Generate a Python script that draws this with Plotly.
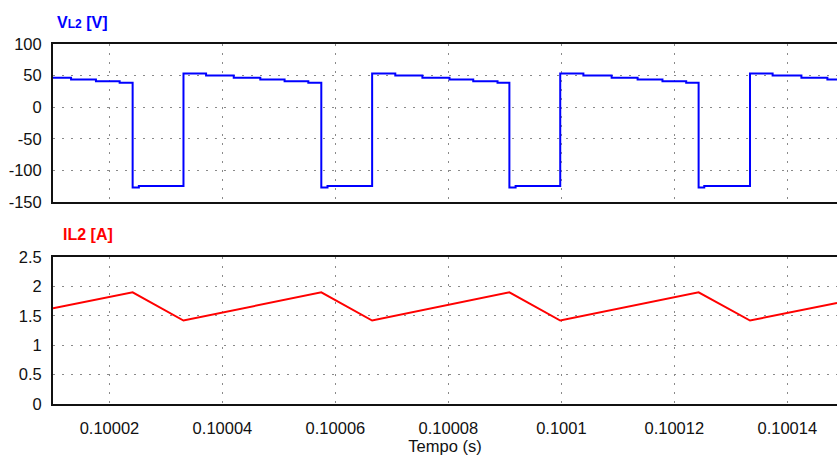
import plotly.graph_objects as go

# ---- data ----
t_v = [0.10001, 0.1000132, 0.1000176, 0.1000218, 0.1000241, 0.1000252,
       0.1000331, 0.1000371, 0.1000420, 0.1000467, 0.1000510, 0.1000552,
       0.1000575, 0.1000586, 0.1000665, 0.1000706, 0.1000754, 0.1000802,
       0.1000844, 0.1000887, 0.1000908, 0.1000919, 0.1000998, 0.1001039,
       0.1001089, 0.1001135, 0.1001179, 0.1001221, 0.1001243, 0.1001253,
       0.1001334, 0.1001374, 0.1001425, 0.1001471, 0.1001488]
v_l2 = [46.5, 44, 41, 38.5, -127, -124.5,
        53.5, 50, 46.5, 44, 41, 38.5, -127, -124.5,
        53.5, 50, 46.5, 44, 41, 38.5, -127, -124.5,
        53.5, 50, 46.5, 44, 41, 38.5, -127, -124.5,
        53.5, 50, 46.5, 44, 44]

t_i = [0.10001, 0.1000241, 0.1000331, 0.1000575, 0.1000665, 0.1000908,
       0.1000998, 0.1001243, 0.1001334, 0.1001488]
i_l2 = [1.63, 1.90, 1.42, 1.90, 1.42, 1.90, 1.42, 1.90, 1.42, 1.72]

x_range = [0.10001, 0.1001488]
x_ticks = [0.10002, 0.10004, 0.10006, 0.10008, 0.1001, 0.10012, 0.10014]
x_tick_labels = ["0.10002", "0.10004", "0.10006", "0.10008", "0.1001", "0.10012", "0.10014"]
v_ticks = [-150, -100, -50, 0, 50, 100]
v_tick_labels = ["-150", "-100", "-50", "0", "50", "100"]
i_ticks = [0, 0.5, 1, 1.5, 2, 2.5]
i_tick_labels = ["0", "0.5", "1", "1.5", "2", "2.5"]

FONT = "Liberation Sans, Arial, sans-serif"
GRID = dict(showgrid=True, gridcolor="#8a8a8a", gridwidth=1, griddash="2px,7px",
            zeroline=False, showline=True, linecolor="#111", linewidth=2)

fig = go.Figure()
fig.add_trace(go.Scatter(x=t_v, y=v_l2, mode="lines", line=dict(color="#0000ff", width=2, shape="hv"),
                         xaxis="x", yaxis="y", showlegend=False, hoverinfo="skip"))
fig.add_trace(go.Scatter(x=t_i, y=i_l2, mode="lines", line=dict(color="#ff0000", width=2),
                         xaxis="x2", yaxis="y2", showlegend=False, hoverinfo="skip"))

fig.update_layout(
    width=837, height=458,
    margin=dict(l=53, r=0, t=44, b=54),
    paper_bgcolor="white", plot_bgcolor="white",
    font=dict(family=FONT, size=16.5, color="#111"),
    xaxis=dict(domain=[0, 1], range=x_range, tickvals=x_ticks, showticklabels=False,
               mirror=True, ticks="", anchor="y", **GRID),
    yaxis=dict(domain=[0.5611, 1], range=[-150, 100], tickvals=v_ticks, ticktext=v_tick_labels,
               ticks="outside", ticklen=6, tickcolor="rgba(0,0,0,0)", anchor="x", **GRID),
    xaxis2=dict(domain=[0, 1], range=x_range, tickvals=x_ticks, ticktext=x_tick_labels,
                mirror=True, ticks="outside", ticklen=8, tickcolor="rgba(0,0,0,0)", anchor="y2",
                title=dict(text="Tempo (s)", standoff=5, font=dict(size=16.5)), **GRID),
    yaxis2=dict(domain=[0, 0.4083], range=[0, 2.5], tickvals=i_ticks, ticktext=i_tick_labels,
                ticks="outside", ticklen=6, tickcolor="rgba(0,0,0,0)", anchor="x2", **GRID),
    annotations=[
        dict(text="<b>V<span style='font-size:12px'>L2</span> [V]</b>", xref="paper", yref="paper",
             x=0.0026, y=1.0592, xanchor="left", yanchor="middle", showarrow=False,
             font=dict(family=FONT, size=16, color="#0000ff")),
        dict(text="<b>IL2 [A]</b>", xref="paper", yref="paper",
             x=0.0102, y=0.4708, xanchor="left", yanchor="middle", showarrow=False,
             font=dict(family=FONT, size=16, color="#ff0000")),
    ],
)

fig.write_html("out.html")
